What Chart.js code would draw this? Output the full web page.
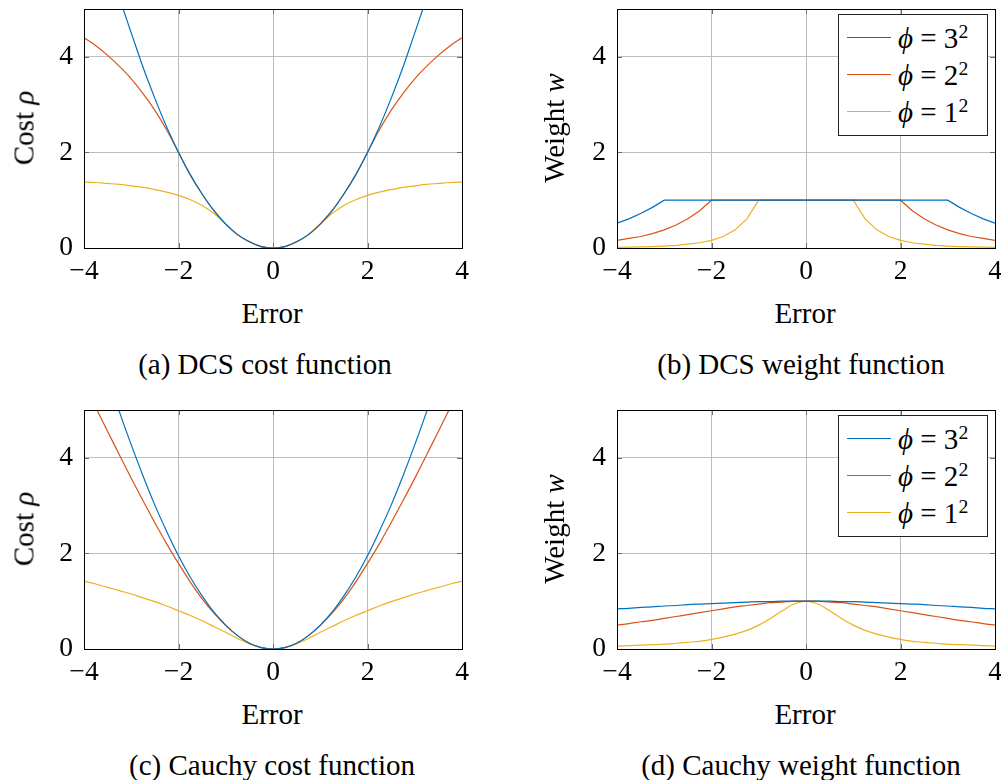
<!DOCTYPE html>
<html>
<head>
<meta charset="utf-8">
<script src="https://cdn.jsdelivr.net/npm/chart.js@4.4.1/dist/chart.umd.min.js"></script>
<style>
  html, body { margin: 0; padding: 0; }
  body { width: 1001px; height: 780px; overflow: hidden; background: #fff; position: relative; font-family: 'Liberation Serif', serif; color: #000; }
  .panel { position: absolute; width: 480px; height: 290px; }
  .txt { position: absolute; transform: translate(-50%, -50%); white-space: nowrap; font-size: 29px; line-height: 1; }
  .ylab { transform: translate(-50%, -50%) rotate(-90deg); }
  .legend { position: absolute; width: 150px; height: 122px; border: 1px solid #222; background: #fff; box-sizing: border-box; }
  .row { position: absolute; left: 8px; height: 0; }
  .row .line { position: absolute; left: 0; top: -0.6px; width: 44px; height: 1.2px; }
  .row .lab { position: absolute; left: 51px; top: 0; transform: translateY(-50%); font-size: 29px; line-height: 1; white-space: nowrap; }
  .row sup { font-size: 68%; vertical-align: 0.5em; line-height: 0; }
</style>
</head>
<body>

<div class="panel" style="left:0;top:0"><canvas id="chartA"></canvas></div>
<div class="panel" style="left:533px;top:0"><canvas id="chartB"></canvas></div>
<div class="panel" style="left:0;top:401px"><canvas id="chartC"></canvas></div>
<div class="panel" style="left:533px;top:401px"><canvas id="chartD"></canvas></div>

<div class="txt ylab" style="left:24px;top:128px">Cost <i>ρ</i></div>
<div class="txt ylab" style="left:554px;top:128px">Weight <i>w</i></div>
<div class="txt ylab" style="left:24px;top:529px">Cost <i>ρ</i></div>
<div class="txt ylab" style="left:554px;top:529px">Weight <i>w</i></div>

<div class="txt" style="left:272px;top:313px">Error</div>
<div class="txt" style="left:805px;top:313px">Error</div>
<div class="txt" style="left:272px;top:714px">Error</div>
<div class="txt" style="left:805px;top:714px">Error</div>

<div class="txt" style="left:265px;top:364px">(a) DCS cost function</div>
<div class="txt" style="left:801px;top:364px">(b) DCS weight function</div>
<div class="txt" style="left:272px;top:765px">(c) Cauchy cost function</div>
<div class="txt" style="left:801px;top:765px">(d) Cauchy weight function</div>

<div class="legend" id="legendB" style="left:838px;top:14px"></div>
<div class="legend" id="legendD" style="left:838px;top:415px"></div>

<script>
// error axis samples, -4 .. 4 in steps of 0.25
const errors = [-4, -3.75, -3.5, -3.25, -3, -2.75, -2.5, -2.25, -2, -1.75, -1.5, -1.25, -1, -0.75, -0.5, -0.25,
  0, 0.25, 0.5, 0.75, 1, 1.25, 1.5, 1.75, 2, 2.25, 2.5, 2.75, 3, 3.25, 3.5, 3.75, 4];

const xTicks = [-4, -2, 0, 2, 4];
const yTicks = [0, 2, 4];

const phiLabels = ["3", "2", "1"];
const colors = ["#0072BD", "#D95319", "#EDB120"];

// (a) DCS cost
const dcsCost9 = [7.02, 6.48, 5.88, 5.22, 4.5, 3.78, 3.13, 2.53, 2, 1.53, 1.13, 0.78, 0.5, 0.28, 0.13, 0.03,
  0, 0.03, 0.13, 0.28, 0.5, 0.78, 1.13, 1.53, 2, 2.53, 3.13, 3.78, 4.5, 5.22, 5.88, 6.48, 7.02];
const dcsCost4 = [4.4, 4.23, 4.03, 3.8, 3.54, 3.23, 2.88, 2.47, 2, 1.53, 1.13, 0.78, 0.5, 0.28, 0.13, 0.03,
  0, 0.03, 0.13, 0.28, 0.5, 0.78, 1.13, 1.53, 2, 2.47, 2.88, 3.23, 3.54, 3.8, 4.03, 4.23, 4.4];
const dcsCost1 = [1.38, 1.37, 1.35, 1.33, 1.3, 1.27, 1.22, 1.17, 1.1, 1.01, 0.89, 0.72, 0.5, 0.28, 0.13, 0.03,
  0, 0.03, 0.13, 0.28, 0.5, 0.72, 0.89, 1.01, 1.1, 1.17, 1.22, 1.27, 1.3, 1.33, 1.35, 1.37, 1.38];

// (b) DCS weight
const dcsWeight9 = [0.52, 0.61, 0.72, 0.85, 1, 1, 1, 1, 1, 1, 1, 1, 1, 1, 1, 1,
  1, 1, 1, 1, 1, 1, 1, 1, 1, 1, 1, 1, 1, 0.85, 0.72, 0.61, 0.52];
const dcsWeight4 = [0.16, 0.2, 0.24, 0.3, 0.38, 0.48, 0.61, 0.78, 1, 1, 1, 1, 1, 1, 1, 1,
  1, 1, 1, 1, 1, 1, 1, 1, 1, 0.78, 0.61, 0.48, 0.38, 0.3, 0.24, 0.2, 0.16];
const dcsWeight1 = [0.014, 0.018, 0.023, 0.03, 0.04, 0.055, 0.08, 0.11, 0.16, 0.24, 0.38, 0.61, 1, 1, 1, 1,
  1, 1, 1, 1, 1, 0.61, 0.38, 0.24, 0.16, 0.11, 0.08, 0.055, 0.04, 0.03, 0.023, 0.018, 0.014];

// (c) Cauchy cost
const cauchyCost9 = [7.3, 6.48, 5.7, 4.96, 4.27, 3.62, 3.01, 2.46, 1.95, 1.5, 1.11, 0.77, 0.5, 0.28, 0.12, 0.03,
  0, 0.03, 0.12, 0.28, 0.5, 0.77, 1.11, 1.5, 1.95, 2.46, 3.01, 3.62, 4.27, 4.96, 5.7, 6.48, 7.3];
const cauchyCost4 = [5.55, 5.05, 4.55, 4.06, 3.57, 3.1, 2.64, 2.2, 1.79, 1.4, 1.05, 0.75, 0.49, 0.28, 0.12, 0.03,
  0, 0.03, 0.12, 0.28, 0.49, 0.75, 1.05, 1.4, 1.79, 2.2, 2.64, 3.1, 3.57, 4.06, 4.55, 5.05, 5.55];
const cauchyCost1 = [1.42, 1.36, 1.29, 1.22, 1.15, 1.07, 0.99, 0.9, 0.8, 0.7, 0.59, 0.47, 0.35, 0.22, 0.11, 0.03,
  0, 0.03, 0.11, 0.22, 0.35, 0.47, 0.59, 0.7, 0.8, 0.9, 0.99, 1.07, 1.15, 1.22, 1.29, 1.36, 1.42];

// (d) Cauchy weight
const cauchyWeight9 = [0.84, 0.85, 0.87, 0.88, 0.9, 0.91, 0.93, 0.94, 0.95, 0.96, 0.97, 0.98, 0.99, 0.99, 1, 1,
  1, 1, 1, 0.99, 0.99, 0.98, 0.97, 0.96, 0.95, 0.94, 0.93, 0.91, 0.9, 0.88, 0.87, 0.85, 0.84];
const cauchyWeight4 = [0.5, 0.53, 0.57, 0.6, 0.64, 0.68, 0.72, 0.76, 0.8, 0.84, 0.88, 0.91, 0.94, 0.97, 0.98, 1,
  1, 1, 0.98, 0.97, 0.94, 0.91, 0.88, 0.84, 0.8, 0.76, 0.72, 0.68, 0.64, 0.6, 0.57, 0.53, 0.5];
const cauchyWeight1 = [0.06, 0.07, 0.08, 0.09, 0.1, 0.12, 0.14, 0.16, 0.2, 0.25, 0.31, 0.39, 0.5, 0.64, 0.8, 0.94,
  1, 0.94, 0.8, 0.64, 0.5, 0.39, 0.31, 0.25, 0.2, 0.16, 0.14, 0.12, 0.1, 0.09, 0.08, 0.07, 0.06];

const FONT = { family: "'Liberation Serif', serif", size: 27.5 };

// black box round the plot area plus the small inward tick marks
const framePlugin = {
  id: "frame",
  afterDatasetsDraw(chart) {
    const { ctx, chartArea: a, scales: { x, y } } = chart;
    ctx.save();
    ctx.lineWidth = 1;
    ctx.strokeStyle = "#6e6e6e";
    ctx.beginPath();
    xTicks.forEach(v => {
      const px = Math.round(x.getPixelForValue(v)) + 0.5;
      ctx.moveTo(px, a.bottom); ctx.lineTo(px, a.bottom - 5);
      ctx.moveTo(px, a.top); ctx.lineTo(px, a.top + 5);
    });
    yTicks.forEach(v => {
      const py = Math.round(y.getPixelForValue(v)) + 0.5;
      ctx.moveTo(a.left, py); ctx.lineTo(a.left + 5, py);
      ctx.moveTo(a.right, py); ctx.lineTo(a.right - 5, py);
    });
    ctx.stroke();
    ctx.strokeStyle = "#000";
    ctx.strokeRect(Math.round(a.left) + 0.5, Math.round(a.top) + 0.5,
      Math.round(a.right - a.left), Math.round(a.bottom - a.top));
    ctx.restore();
  }
};

function fmt(v) {
  return v < 0 ? "\u2212" + Math.abs(v) : String(v);
}

function makeChart(id, seriesList, smooth) {
  const canvas = document.getElementById(id);
  canvas.width = 480;
  canvas.height = 290;
  return new Chart(canvas, {
    type: "line",
    data: {
      datasets: seriesList.map((s, i) => ({
        label: "\u03d5 = " + phiLabels[i] + "\u00b2",
        data: errors.map((e, k) => ({ x: e, y: s[k] })),
        borderColor: colors[i],
        borderWidth: 1.2,
        pointRadius: 0,
        fill: false,
        tension: 0,
        cubicInterpolationMode: smooth ? "monotone" : "default",
      })),
    },
    options: {
      responsive: false,
      animation: false,
      events: [],
      layout: { padding: { left: 0, right: 18, top: 9, bottom: 0 } },
      plugins: { legend: { display: false }, tooltip: { enabled: false } },
      scales: {
        x: {
          type: "linear",
          min: -4,
          max: 4,
          afterBuildTicks: s => { s.ticks = xTicks.map(v => ({ value: v })); },
          afterFit: s => { s.height = 42; s.paddingLeft = 0; s.paddingRight = 0; },
          ticks: { font: FONT, color: "#000", padding: 7, maxRotation: 0, callback: fmt },
          grid: { color: "#bdbdbd", lineWidth: 1, drawTicks: false },
          border: { display: false },
        },
        y: {
          type: "linear",
          min: 0,
          max: 5,
          afterBuildTicks: s => { s.ticks = yTicks.map(v => ({ value: v })); },
          afterFit: s => { s.width = 84; s.paddingTop = 0; s.paddingBottom = 0; },
          ticks: { font: FONT, color: "#000", padding: 11, callback: fmt },
          grid: { color: "#bdbdbd", lineWidth: 1, drawTicks: false },
          border: { display: false },
        },
      },
    },
    plugins: [framePlugin],
  });
}

const chartA = makeChart("chartA", [dcsCost9, dcsCost4, dcsCost1], true);
// the DCS weights have sharp corners, so straight segments there
const chartB = makeChart("chartB", [dcsWeight9, dcsWeight4, dcsWeight1], false);
const chartC = makeChart("chartC", [cauchyCost9, cauchyCost4, cauchyCost1], true);
const chartD = makeChart("chartD", [cauchyWeight9, cauchyWeight4, cauchyWeight1], true);

// legend boxes inside the weight plots, built from the chart's datasets
function buildLegend(boxId, chart) {
  const box = document.getElementById(boxId);
  chart.data.datasets.forEach((ds, i) => {
    const row = document.createElement("div");
    row.className = "row";
    row.style.top = (22.5 + i * 37) + "px";
    row.innerHTML = '<span class="line" style="background:' + ds.borderColor + '"></span>' +
      '<span class="lab"><i>\u03d5</i> = ' + phiLabels[i] + "<sup>2</sup></span>";
    box.appendChild(row);
  });
}
buildLegend("legendB", chartB);
buildLegend("legendD", chartD);
</script>
</body>
</html>
